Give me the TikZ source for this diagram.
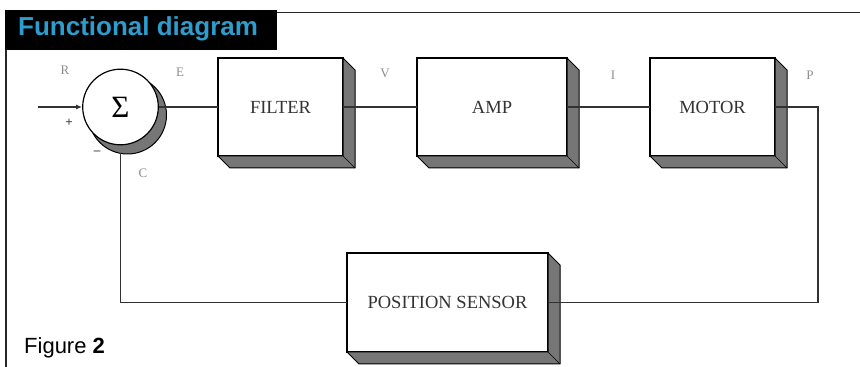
\documentclass[tikz,border=0pt]{standalone}
\usepackage{fontspec}
\setmainfont{Liberation Sans}
\newfontfamily\diagserif{Liberation Serif}
\usetikzlibrary{arrows.meta,calc}
\definecolor{hdrblue}{RGB}{45,157,205}
\definecolor{wirec}{RGB}{50,50,50}
\definecolor{facegray}{RGB}{118,118,118}
\definecolor{lblgray}{RGB}{140,140,140}
\newcommand\sidefaces[1]{%
  \filldraw[fill=facegray,draw=black,line width=1pt,line join=round]
    (#1.north east) -- ([shift={(12,-12)}]#1.north east)
    -- ([shift={(12,-12)}]#1.south east) -- ([shift={(12,-12)}]#1.south west)
    -- (#1.south west) -- (#1.south east) -- cycle;
  \draw[line width=0.6pt] (#1.south east) -- ([shift={(12,-12)}]#1.south east);}
\begin{document}
\begin{tikzpicture}[x=1pt,y=1pt,
  blockbox/.style={draw=black,line width=1.2pt,fill=white,minimum height=98pt,
    inner sep=0pt,outer sep=0pt,font=\diagserif\fontsize{18.5}{20}\selectfont,text=black!80},
  wire/.style={draw=wirec,line width=1.5pt},
  lbl/.style={font=\diagserif\fontsize{13}{15}\selectfont,text=lblgray,inner sep=0pt},
  sign/.style={font=\diagserif\bfseries\fontsize{13}{14}\selectfont,text=black!75,inner sep=0pt}]
\useasboundingbox (0,0) rectangle (860,367);
% header
\node[fill=black,anchor=north west,minimum width=272pt,minimum height=40pt,
  inner sep=0pt,outer sep=0pt] (hdr) at (5,357) {};
\node[anchor=base west,text=hdrblue,font=\bfseries\fontsize{26}{28}\selectfont,
  inner sep=0pt] (title) at (18,331) {Functional diagram};
\coordinate (topR) at (860,354.5);
\coordinate (frameB) at (6,0);
\draw[line width=1.5pt,draw=black!85] (hdr.east |- topR) -- (topR);
\draw[line width=1.2pt,draw=black!85] (hdr.south west -| frameB) -- (frameB);
% summing junction
\coordinate (sumc) at (120.5,260);
\filldraw[fill=facegray,draw=black,line width=1pt] ([shift={(7,-8)}]sumc) circle[radius=39pt];
\node[circle,draw=black,line width=1.2pt,fill=white,minimum size=75.6pt,inner sep=0pt,
  font=\diagserif\fontsize{31}{33}\selectfont] (sum) at (sumc) {Σ};
% blocks
\node[blockbox,minimum width=125pt] (filter) at (280.5,260) {FILTER};
\sidefaces{filter}
\node[blockbox,minimum width=150pt] (amp) at (492,260) {AMP};
\sidefaces{amp}
\node[blockbox,minimum width=125pt] (motor) at (712.5,260) {MOTOR};
\sidefaces{motor}
\node[blockbox,minimum width=201pt,minimum height=99pt] (sensor) at (447.5,64.5) {POSITION SENSOR};
\sidefaces{sensor}
% connectors
\coordinate (inR) at (38,260);
\coordinate (outR) at (818,260);
\coordinate (botR) at (818,64.5);
\coordinate (botL) at (120.5,64.5);
\coordinate (fbtop) at (120.5,214);
\draw[wire,-{Latex[length=6pt,width=5pt]}] (inR) -- (sum.west);
\draw[wire] (sum.east) -- (filter.west);
\draw[wire] (filter.east) -- (amp.west);
\draw[wire] (amp.east) -- (motor.west);
\draw[wire] (motor.east) -- (outR) -- (botR) -- (sensor.east);
\draw[wire] (sensor.west) -- (botL) -- (fbtop);
% labels
\node[lbl] (lR) at (65,297) {R};
\node[lbl] (lE) at (180,295) {E};
\node[lbl] (lV) at (385,294) {V};
\node[lbl] (lI) at (613,292) {I};
\node[lbl] (lP) at (810,292) {P};
\node[lbl] (lC) at (143,194) {C};
\node[sign] (plus) at (69,244) {+};
\node[sign] (minus) at (97,214) {–};
% caption
\node[anchor=base west,font=\fontsize{22}{24}\selectfont,inner sep=0pt] (fig) at (24,13) {Figure \textbf{2}};
\end{tikzpicture}
\end{document}
